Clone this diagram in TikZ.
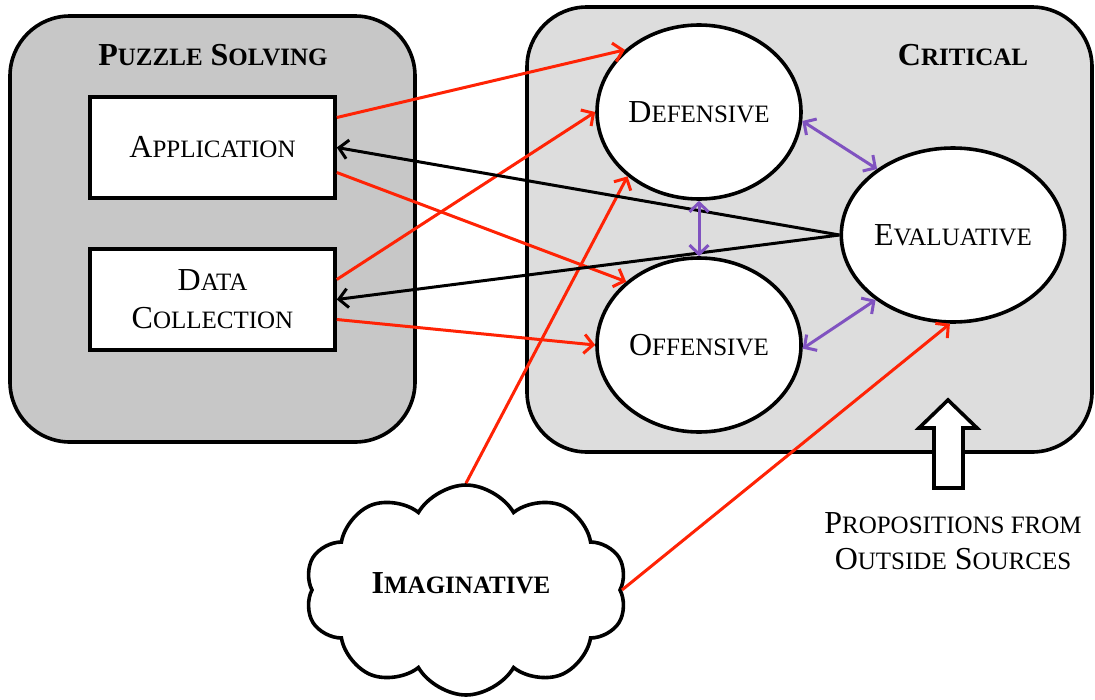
\documentclass[tikz,border=0pt]{standalone}
\usepackage{fontspec}
\setmainfont{Liberation Serif}
\usetikzlibrary{arrows.meta,shapes.geometric,shapes.symbols}
\definecolor{redline}{RGB}{255,35,5}
\definecolor{purpline}{RGB}{128,82,192}
\definecolor{leftfill}{RGB}{199,199,199}
\definecolor{rightfill}{RGB}{221,221,221}
\newcommand\SC[2]{#1{\fontsize{25}{30}\selectfont #2}}
\tikzset{
  txt/.style={font=\fontsize{32}{38}\selectfont},
  panel/.style={draw, line width=3.6pt, rounded corners=60pt, inner sep=0pt},
  boxnode/.style={draw, fill=white, line width=3.6pt, minimum width=245pt, minimum height=101pt, inner sep=0pt, txt, align=center},
  ellnode/.style={ellipse, draw, fill=white, line width=3.6pt, minimum width=204pt, minimum height=174pt, inner sep=0pt, txt},
  tipb/.tip={Straight Barb[length=9pt,width=19pt]},
  redarr/.style={draw=redline, line width=3pt, -tipb},
  blackarr/.style={draw=black, line width=3pt, -tipb},
  purparr/.style={draw=purpline, line width=3pt, tipb-tipb},
}
\begin{document}
\begin{tikzpicture}[x=1pt,y=-1pt]
\useasboundingbox (0,0) rectangle (1095,699);
% panels
\node[panel, fill=leftfill, minimum width=405pt, minimum height=426pt] (ps) at (212.5,229) {};
\node[panel, fill=rightfill, minimum width=565pt, minimum height=445pt] (cr) at (809.5,229.5) {};
\node[txt, font=\fontsize{32}{38}\selectfont\bfseries] (pst) at (213,55) {\SC{P}{UZZLE} \SC{S}{OLVING}};
\node[txt, font=\fontsize{32}{38}\selectfont\bfseries] (crt) at (963,55) {\SC{C}{RITICAL}};
% boxes
\node[boxnode] (app) at (212.5,147.5) {\SC{A}{PPLICATION}};
\node[boxnode] (dc) at (212.5,299.5) {\SC{D}{ATA}\\\SC{C}{OLLECTION}};
% ellipses
\node[ellnode] (def) at (699,112) {\SC{D}{EFENSIVE}};
\node[ellnode] (off) at (699,345) {\SC{O}{FFENSIVE}};
\node[ellnode] (eva) at (953,235) {\SC{E}{VALUATIVE}};
% cloud
\node[cloud, draw, fill=white, line width=3.6pt, cloud puffs=10, cloud puff arc=120, aspect=1.55, minimum width=322pt, minimum height=210pt, inner sep=0pt] (img) at (466,590) {};
\node[txt, font=\fontsize{32}{38}\selectfont\bfseries] (imgt) at (461,583) {\SC{I}{MAGINATIVE}};
% block arrow
\draw[line width=3.6pt, fill=white, line join=miter] (948,400) -- (977,428) -- (963,428) -- (963,488) -- (934,488) -- (934,428) -- (919,428) -- cycle;
\node[txt, align=center] (prop) at (953,541) {\SC{P}{ROPOSITIONS FROM}\\[-2pt]\SC{O}{UTSIDE} \SC{S}{OURCES}};
% red arrows
\draw[redarr] ([yshift=30pt]app.east) -- (def.140);
\draw[redarr] ([yshift=-25pt]app.east) -- (off.139);
\draw[redarr] ([yshift=20pt]dc.east) -- (def.180);
\draw[redarr] ([yshift=-20pt]dc.east) -- (off.180);
\draw[redarr] (img.north) -- (def.222);
\draw[redarr] (img.east) -- (eva.268);
% black arrows
\draw[blackarr] (eva.west) -- (app.east);
\draw[blackarr] (eva.west) -- (dc.east);
% purple arrows
\draw[purparr] (def.355) -- (eva.139);
\draw[purparr] (def.270) -- (off.90);
\draw[purparr] (off.358) -- (eva.220);
\end{tikzpicture}
\end{document}
